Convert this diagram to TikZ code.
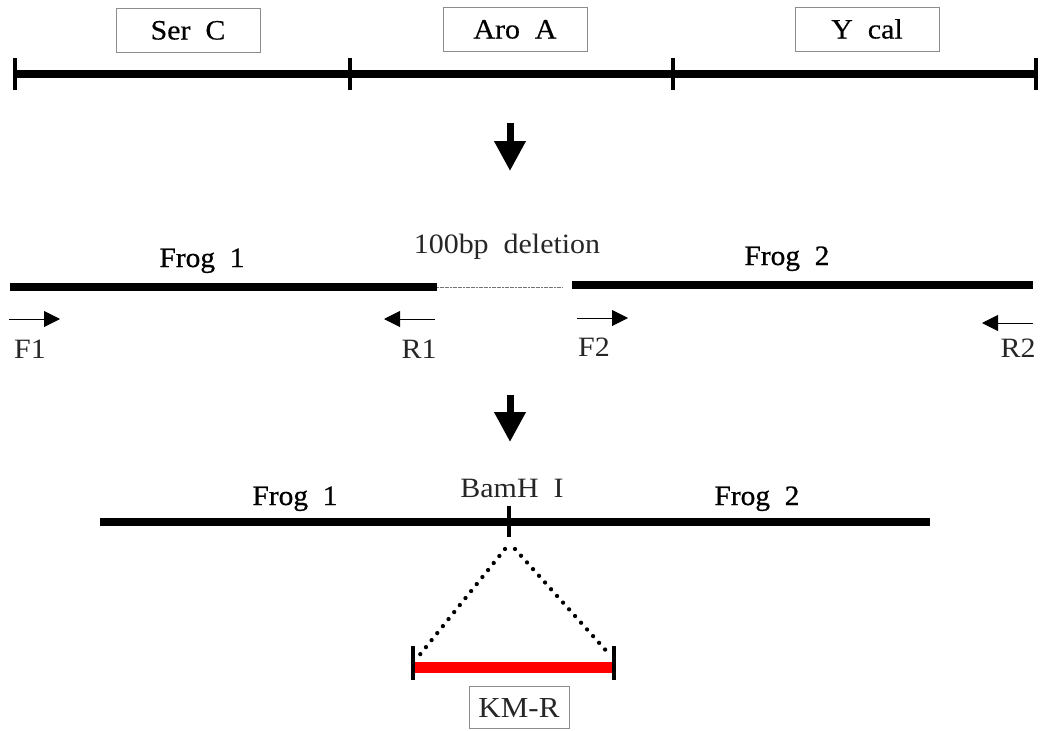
\documentclass[tikz,border=0pt]{standalone}
\usepackage{fontspec}
\setmainfont{Liberation Serif}[FakeStretch=1.07]
\newfontfamily\frogfont{Liberation Serif}[FakeStretch=1.05,FakeBold=0.8]
\newfontfamily\boxfont{Liberation Serif}[FakeStretch=1.07,FakeBold=0.35]
\usetikzlibrary{arrows.meta}
\begin{document}
\begin{tikzpicture}[x=1pt,y=-1pt,
  genebox/.style={draw=black!45, line width=0.9pt, minimum width=144pt, minimum height=44pt, inner sep=0pt, text height=19pt, text depth=0pt, font=\boxfont\fontsize{28}{28}\selectfont},
  kmbox/.style={draw=black!45, line width=0.9pt, minimum width=100pt, minimum height=42pt, inner sep=0pt, text height=20pt, text depth=0pt, text=black!85, font=\fontsize{29}{29}\selectfont},
  chrom/.style={line width=8pt},
  frag/.style={line width=7.5pt},
  tick/.style={line width=4.8pt},
  bigarrow/.style={line width=7pt, -{Triangle[width=30pt,length=30pt]}},
  primer/.style={line width=1pt, -{Triangle[width=16pt,length=16pt]}},
  froglabel/.style={anchor=base, font=\frogfont\fontsize{28}{28}\selectfont},
  thinlabel/.style={anchor=base, text=black!85, font=\fontsize{28}{28}\selectfont},
  dots/.style={line width=4.3pt, line cap=round, dash pattern=on 0pt off 9pt}
]
\useasboundingbox (0,0) rectangle (1042,731);
% top chromosome
\coordinate (t0) at (15,74);
\coordinate (t1) at (350,74);
\coordinate (t2) at (673,74);
\coordinate (t3) at (1036,74);
\draw[chrom] (t0) -- (t3);
\foreach \p in {t0,t1,t2,t3} \draw[tick] ([yshift=-16pt]\p) -- ([yshift=16pt]\p);
\node[genebox] (serc) at (188,30) {Ser\ \ C};
\node[genebox] (aroa) at (515,29) {Aro\ \ A};
\node[genebox] (ycal) at (867,29) {Y\ \ cal};
% arrow 1
\coordinate (a1s) at (510,123);
\coordinate (a1e) at (510,171);
\draw[bigarrow] (a1s) -- (a1e);
% middle fragments
\coordinate (m0) at (10,287);
\coordinate (m1) at (437,287);
\coordinate (m2) at (572,285);
\coordinate (m3) at (1033,285);
\draw[frag] (m0) -- (m1);
\draw[frag] (m2) -- (m3);
\draw[black!55, line width=0.8pt, dash pattern=on 2pt off 0.6pt] (m1) -- (563,287) coordinate (m1e);
\node[froglabel] (frog1a) at (202,267) {Frog\ \ 1};
\node[froglabel] (frog2a) at (787,265) {Frog\ \ 2};
\node[thinlabel] (del) at (507,253) {100bp\ \ deletion};
% primers
\coordinate (f1s) at (9,319); \coordinate (f1e) at (60,319);
\coordinate (r1s) at (435,319); \coordinate (r1e) at (384,319);
\coordinate (f2s) at (577,318); \coordinate (f2e) at (628,318);
\coordinate (r2s) at (1033,323); \coordinate (r2e) at (982,323);
\draw[primer] (f1s) -- (f1e);
\draw[primer] (r1s) -- (r1e);
\draw[primer] (f2s) -- (f2e);
\draw[primer] (r2s) -- (r2e);
\node[thinlabel] (F1) at (30,358) {F1};
\node[thinlabel] (R1) at (419,358) {R1};
\node[thinlabel] (F2) at (594,356) {F2};
\node[thinlabel] (R2) at (1018,357) {R2};
% arrow 2
\coordinate (a2s) at (510,395);
\coordinate (a2e) at (510,442);
\draw[bigarrow] (a2s) -- (a2e);
% bottom construct
\coordinate (b0) at (100,522);
\coordinate (b1) at (930,522);
\coordinate (bam) at (509,522);
\draw[frag] (b0) -- (b1);
\draw[tick] ([yshift=-15pt]bam) -- ([yshift=16pt]bam);
\node[froglabel] (frog1b) at (295,505) {Frog\ \ 1};
\node[froglabel] (frog2b) at (757,505) {Frog\ \ 2};
\node[thinlabel] (bamh) at (512,497) {BamH\ \ I};
% insertion
\coordinate (k0) at (413,667);
\coordinate (k1) at (614,667);
\draw[red, line width=11pt] (k0) -- (k1);
\draw[tick] ([yshift=-13pt]k0) -- ([yshift=21pt]k0);
\draw[tick] ([yshift=-13pt]k1) -- ([yshift=21pt]k1);
\coordinate (dl) at (505,549);
\coordinate (dr) at (515,549);
\draw[dots] (dl) -- (418,657);
\draw[dots] (dr) -- (610,655);
\node[kmbox] (km) at (519,707) {KM-R};
\end{tikzpicture}
\end{document}
